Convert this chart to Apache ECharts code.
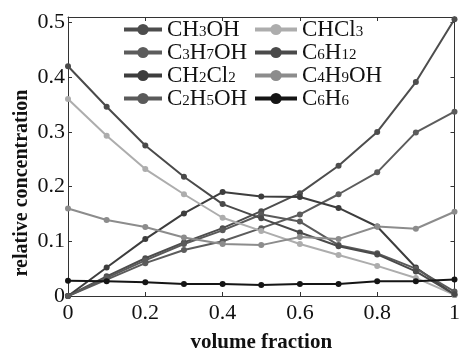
<!DOCTYPE html>
<html><head><meta charset="utf-8">
<script src="https://cdn.jsdelivr.net/npm/echarts@6/dist/echarts.min.js"></script>
<style>html,body{margin:0;padding:0;background:#fff}#c{width:463px;height:358px}</style>
</head><body><div id="c"></div>
<script>
const xValues = [0, 0.1, 0.2, 0.3, 0.4, 0.5, 0.6, 0.7, 0.8, 0.9, 1];
const yTicks = [0, 0.1, 0.2, 0.3, 0.4, 0.5];
const xTicks = [0, 0.2, 0.4, 0.6, 0.8, 1];
const names = ['CH3OH', 'C3H7OH', 'CH2Cl2', 'C2H5OH', 'CHCl3', 'C6H12', 'C4H9OH', 'C6H6'];
const CH3OH  = [0, 0.036, 0.069, 0.098, 0.124, 0.155, 0.188, 0.238, 0.300, 0.391, 0.506];
const C3H7OH = [0, 0.030, 0.060, 0.084, 0.100, 0.124, 0.149, 0.186, 0.226, 0.299, 0.337];
const CH2Cl2 = [0, 0.052, 0.104, 0.151, 0.190, 0.182, 0.181, 0.161, 0.127, 0.052, 0.002];
const C2H5OH = [0, 0.033, 0.065, 0.095, 0.120, 0.149, 0.136, 0.093, 0.078, 0.050, 0.008];
const CHCl3  = [0.360, 0.293, 0.232, 0.186, 0.143, 0.119, 0.095, 0.075, 0.055, 0.033, 0.002];
const C6H12  = [0.420, 0.346, 0.275, 0.218, 0.168, 0.142, 0.116, 0.091, 0.076, 0.045, 0.003];
const C4H9OH = [0.160, 0.139, 0.126, 0.107, 0.095, 0.093, 0.108, 0.104, 0.127, 0.123, 0.154];
const C6H6   = [0.028, 0.027, 0.025, 0.022, 0.022, 0.020, 0.022, 0.022, 0.027, 0.027, 0.030];
const values = [CH3OH, C3H7OH, CH2Cl2, C2H5OH, CHCl3, C6H12, C4H9OH, C6H6];
const colors = ['#4d4d4d', '#5c5c5c', '#3d3d3d', '#5a5a5a', '#adadad', '#4a4a4a', '#8c8c8c', '#151515'];

const serif = '"Liberation Serif", "DejaVu Serif", serif';
const rich = {
  m: {fontFamily: serif, fontSize: 23, lineHeight: 21, color: '#111'},
  s: {fontFamily: serif, fontSize: 15, lineHeight: 10, verticalAlign: 'bottom', color: '#111'}
};
function fmt(n) {
  return n.split(/(\d+)/).filter(t => t).map(t => /\d/.test(t) ? '{s|' + t + '}' : '{m|' + t + '}').join('');
}
function legend(data, left, w) {
  return {
    data: data, orient: 'vertical', left: left, top: 18, itemWidth: w, itemHeight: 14, itemGap: 0,
    padding: 0, formatter: fmt, textStyle: {rich: rich}, lineStyle: {width: 4}
  };
}
const chart = echarts.init(document.getElementById('c'));
const ax = {color: '#333', width: 1};
const line = {show: true, onZero: false, lineStyle: ax};
chart.setOption({
  animation: false,
  backgroundColor: '#fff',
  grid: {left: 68, right: 6, top: 17, bottom: 49},
  legend: [legend(names.slice(0, 4), 122, 38), legend(names.slice(4), 253, 42)],
  graphic: [{
    type: 'text', x: 22, y: 183, rotation: Math.PI / 2,
    style: {text: 'relative concentration', font: 'bold 20px ' + serif, fill: '#111',
      align: 'center', verticalAlign: 'middle'}
  }],
  xAxis: [{
    type: 'value', min: 0, max: 1, interval: 0.2,
    axisLine: line, axisTick: {show: true, inside: true, length: 4, lineStyle: ax},
    splitLine: {show: false},
    axisLabel: {fontFamily: serif, fontSize: 22, color: '#111', margin: 6,
      formatter: v => xTicks.includes(Math.round(v * 10) / 10) ? String(Math.round(v * 10) / 10) : ''},
    name: 'volume fraction', nameLocation: 'middle', nameGap: 36,
    nameTextStyle: {fontFamily: serif, fontSize: 21, fontWeight: 'bold', color: '#111'}
  }, {
    type: 'value', min: 0, max: 1, interval: 0.2, position: 'top',
    axisLine: line, axisTick: {show: true, inside: true, length: 4, lineStyle: ax},
    axisLabel: {show: false}, splitLine: {show: false}
  }],
  yAxis: [{
    type: 'value', min: 0, max: 0.51, interval: 0.1,
    axisLine: line, axisTick: {show: true, inside: true, length: 4, lineStyle: ax},
    splitLine: {show: false},
    axisLabel: {fontFamily: serif, fontSize: 22, color: '#111', margin: 3, showMaxLabel: false,
      formatter: v => { const r = Math.round(v * 10) / 10; return yTicks.includes(r) && Math.abs(r - v) < 1e-6 ? String(r) : ''; }}
  }, {
    type: 'value', min: 0, max: 0.51, interval: 0.1, position: 'right',
    axisLine: line, axisTick: {show: true, inside: true, length: 4, lineStyle: ax},
    axisLabel: {show: false}, splitLine: {show: false}
  }],
  series: names.map((n, i) => ({
    name: n, type: 'line', xAxisIndex: 0, yAxisIndex: 0,
    data: xValues.map((x, j) => [x, values[i][j]]),
    symbol: 'circle', symbolSize: 6, showSymbol: true,
    lineStyle: {width: 2, color: colors[i]}, itemStyle: {color: colors[i]},
    z: i === 7 ? 3 : 2
  }))
});
</script></body></html>
